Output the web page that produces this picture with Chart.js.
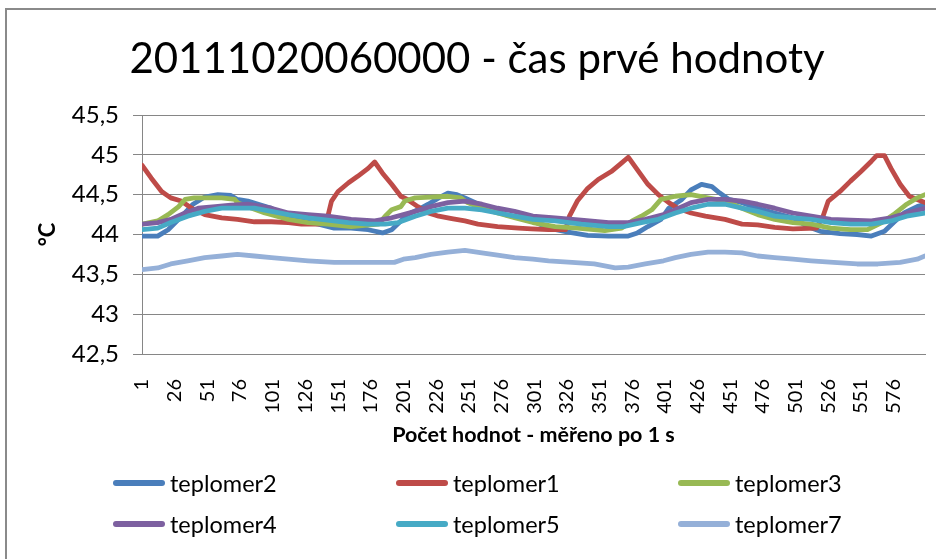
<!DOCTYPE html>
<html><head><meta charset="utf-8">
<script src="https://cdn.jsdelivr.net/npm/chart.js@4/dist/chart.umd.min.js"></script>
<style>
html,body{margin:0;padding:0;background:#fff;overflow:hidden;width:936px;height:559px;}
#frame{position:absolute;left:5px;top:8px;width:940px;height:560px;border:2px solid #8a8a8a;border-right:none;border-bottom:none;}
#c{position:absolute;left:0;top:0;}
#legend{position:absolute;left:0;top:0;width:936px;height:559px;font-family:Lato,sans-serif;}
.item{position:absolute;display:flex;align-items:center;font-size:23.5px;color:#000;height:30px;white-space:nowrap;}
.sw{width:52px;height:6px;border-radius:3px;margin-right:5px;}
</style></head>
<body>
<div id="frame"><canvas id="c" width="940" height="560" style="width:940px;height:560px"></canvas></div>
<div id="legend"></div>
<script>
// ---- data (x = measurement index, y = °C) ----
const tickLabels = [1,26,51,76,101,126,151,176,201,226,251,276,301,326,351,376,401,426,451,476,501,526,551,576];
const seriesNames = ['teplomer2','teplomer1','teplomer3','teplomer4','teplomer5','teplomer7'];
const seriesColors = ['#4a7ebb','#be4b48','#98b954','#7d60a0','#46aac5','#95b0d8'];

const teplomer2 = [[1,43.98],[13,43.98],[21,44.06],[29,44.19],[36,44.31],[40,44.38],[49,44.47],[59,44.50],[69,44.49],[74,44.44],[82,44.42],[90,44.38],[100,44.33],[110,44.23],[123,44.17],[136,44.13],[148,44.08],[161,44.08],[174,44.06],[185,44.02],[192,44.06],[199,44.17],[204,44.25],[212,44.31],[220,44.38],[228,44.46],[235,44.52],[242,44.50],[248,44.46],[256,44.40],[266,44.33],[279,44.25],[291,44.21],[300,44.17],[312,44.08],[327,44.03],[342,43.99],[358,43.98],[373,43.98],[380,44.02],[388,44.10],[398,44.19],[404,44.33],[414,44.44],[421,44.56],[429,44.63],[437,44.60],[443,44.52],[450,44.44],[460,44.40],[472,44.33],[485,44.27],[499,44.21],[510,44.10],[520,44.04],[535,44.01],[548,44.00],[559,43.98],[569,44.04],[576,44.15],[584,44.27],[594,44.35],[600,44.38]];
const teplomer1 = [[1,44.87],[8,44.71],[16,44.54],[23,44.46],[31,44.42],[39,44.33],[49,44.25],[62,44.21],[74,44.19],[87,44.16],[100,44.16],[113,44.15],[123,44.13],[136,44.13],[142,44.15],[146,44.42],[151,44.54],[159,44.65],[166,44.73],[174,44.83],[179,44.91],[185,44.77],[192,44.63],[199,44.48],[204,44.44],[212,44.35],[220,44.27],[228,44.23],[238,44.20],[248,44.17],[258,44.13],[273,44.10],[289,44.08],[299,44.07],[312,44.06],[325,44.06],[328,44.23],[334,44.42],[342,44.58],[350,44.69],[360,44.79],[368,44.90],[373,44.97],[380,44.81],[388,44.63],[396,44.50],[404,44.40],[411,44.33],[421,44.27],[432,44.23],[447,44.19],[460,44.13],[472,44.12],[485,44.09],[499,44.07],[517,44.08],[522,44.23],[526,44.42],[535,44.54],[543,44.67],[551,44.79],[559,44.92],[563,44.99],[569,44.99],[574,44.83],[581,44.63],[588,44.48],[594,44.44],[600,44.40]];
const teplomer3 = [[1,44.13],[13,44.17],[21,44.25],[29,44.35],[34,44.44],[41,44.46],[62,44.46],[72,44.44],[74,44.40],[85,44.33],[95,44.27],[100,44.25],[113,44.19],[128,44.15],[143,44.13],[161,44.10],[182,44.13],[187,44.23],[192,44.31],[199,44.35],[202,44.42],[210,44.46],[222,44.47],[235,44.48],[245,44.46],[250,44.40],[261,44.33],[273,44.27],[286,44.21],[300,44.15],[317,44.10],[334,44.08],[355,44.05],[368,44.08],[376,44.17],[383,44.23],[391,44.31],[398,44.44],[409,44.48],[421,44.50],[434,44.46],[447,44.42],[460,44.33],[472,44.25],[485,44.19],[499,44.15],[513,44.13],[528,44.08],[543,44.06],[556,44.06],[567,44.15],[576,44.25],[586,44.38],[594,44.46],[600,44.50]];
const teplomer4 = [[1,44.13],[13,44.15],[23,44.19],[34,44.27],[44,44.33],[57,44.35],[69,44.37],[82,44.38],[100,44.33],[113,44.27],[128,44.25],[143,44.23],[161,44.19],[179,44.17],[192,44.21],[201,44.25],[210,44.29],[222,44.35],[235,44.40],[248,44.42],[261,44.38],[273,44.33],[286,44.29],[300,44.23],[317,44.21],[337,44.18],[358,44.15],[373,44.15],[386,44.19],[400,44.25],[409,44.31],[421,44.40],[434,44.44],[447,44.44],[460,44.42],[472,44.38],[485,44.33],[499,44.27],[513,44.23],[528,44.19],[543,44.18],[559,44.17],[574,44.21],[586,44.27],[600,44.33]];
const teplomer5 = [[1,44.06],[13,44.08],[23,44.15],[36,44.23],[49,44.29],[62,44.33],[74,44.33],[87,44.33],[100,44.29],[113,44.25],[128,44.21],[143,44.18],[159,44.15],[174,44.13],[187,44.13],[197,44.15],[210,44.23],[222,44.29],[235,44.33],[248,44.33],[261,44.31],[273,44.27],[286,44.23],[300,44.19],[317,44.17],[337,44.13],[358,44.10],[370,44.10],[383,44.15],[396,44.19],[409,44.27],[421,44.33],[434,44.38],[447,44.38],[460,44.33],[472,44.29],[485,44.23],[499,44.21],[513,44.19],[528,44.15],[543,44.13],[559,44.13],[574,44.17],[586,44.23],[600,44.27]];
const teplomer7 = [[1,43.56],[13,43.58],[23,43.63],[36,43.67],[49,43.71],[62,43.73],[74,43.75],[87,43.73],[100,43.71],[113,43.69],[128,43.67],[148,43.65],[169,43.65],[194,43.65],[201,43.69],[210,43.71],[222,43.75],[235,43.78],[248,43.80],[261,43.77],[273,43.74],[286,43.71],[300,43.69],[312,43.67],[330,43.65],[347,43.63],[363,43.58],[373,43.59],[386,43.63],[400,43.67],[409,43.71],[421,43.75],[434,43.78],[447,43.78],[460,43.77],[472,43.73],[485,43.71],[499,43.69],[513,43.67],[530,43.65],[548,43.63],[564,43.63],[581,43.65],[594,43.69],[600,43.73]];
const seriesData = [teplomer2, teplomer1, teplomer3, teplomer4, teplomer5, teplomer7];

Chart.defaults.font.family = 'Lato';
Chart.defaults.color = '#000';

const datasets = seriesNames.map((name, i) => ({
  label: name,
  data: seriesData[i].map(p => ({x: p[0], y: p[1]})),
  borderColor: seriesColors[i],
  backgroundColor: seriesColors[i],
  borderWidth: 4.8,
  pointRadius: 0,
  tension: 0,
  borderJoinStyle: 'round',
  borderCapStyle: 'round',
  order: seriesNames.length - i
}));

const chart = new Chart(document.getElementById('c'), {
  type: 'line',
  data: { datasets },
  options: {
    responsive: false,
    animation: false,
    layout: { padding: { left: 22, right: 22, top: 0, bottom: 106 } },
    plugins: {
      legend: { display: false },
      tooltip: { enabled: false },
      title: {
        display: true,
        text: '20111020060000 - čas prvé hodnoty',
        font: { family: 'Lato', size: 42, weight: 'normal' },
        color: '#000',
        padding: { top: 24, bottom: 30.6 }
      }
    },
    scales: {
      x: {
        type: 'linear',
        min: 1, max: 600,
        afterBuildTicks: s => { s.ticks = tickLabels.map(v => ({ value: v })); },
        afterFit: s => { s.height = 110; },
        ticks: {
          autoSkip: false, maxRotation: 90, minRotation: 90, padding: 17,
          font: { family: 'Lato', size: 20 }, color: '#000',
          callback: v => String(v)
        },
        grid: { display: false },
        border: { display: true, color: '#868686', width: 1 },
        title: {
          display: true, text: 'Počet hodnot - měřeno po 1 s',
          font: { family: 'Lato', size: 21.5, weight: 'bold' }, color: '#000',
          padding: { top: 0, bottom: 16 }
        }
      },
      y: {
        min: 42.5, max: 45.5,
        afterFit: s => { s.width = 113; },
        ticks: {
          stepSize: 0.5, padding: 14,
          font: { family: 'Lato', size: 24 }, color: '#000',
          callback: v => String(v).replace('.', ',')
        },
        grid: { color: '#868686', lineWidth: 1, drawTicks: true, tickLength: 9 },
        border: { display: true, color: '#868686', width: 1 },
        title: {
          display: true, text: '°C',
          font: { family: 'Lato', size: 22, weight: 'bold' }, color: '#000',
          padding: { top: 6, bottom: 0 }
        }
      }
    }
  }
});

// HTML legend built from the chart's datasets (3 columns x 2 rows)
const legendSlots = [[113,468],[396,468],[678,468],[113,509],[396,509],[678,509]];
const legendEl = document.getElementById('legend');
chart.data.datasets.forEach((ds, i) => {
  const item = document.createElement('div');
  item.className = 'item';
  item.style.left = legendSlots[i][0] + 'px';
  item.style.top = legendSlots[i][1] + 'px';
  const sw = document.createElement('span');
  sw.className = 'sw';
  sw.style.background = ds.borderColor;
  const tx = document.createElement('span');
  tx.textContent = ds.label;
  item.appendChild(sw); item.appendChild(tx);
  legendEl.appendChild(item);
});
</script>
</body></html>
